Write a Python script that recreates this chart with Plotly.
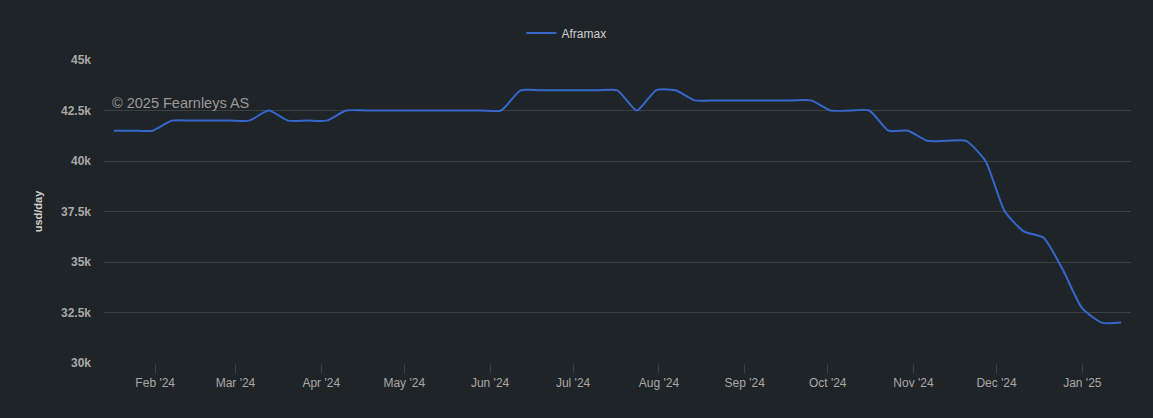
import plotly.graph_objects as go
import pandas as pd

# Weekly Aframax rates (usd/day), Jan 2024 - Jan 2025
start_date = "2024-01-17"
aframax = [41500, 41500, 41500, 42000, 42000, 42000, 42000, 42000, 42500, 42000,
           42000, 42000, 42500, 42500, 42500, 42500, 42500, 42500, 42500, 42500,
           42500, 43500, 43500, 43500, 43500, 43500, 43500, 42500, 43500, 43500,
           43000, 43000, 43000, 43000, 43000, 43000, 43000, 42500, 42500, 42500,
           41500, 41500, 41000, 41000, 41000, 40000, 37500, 36500, 36200, 34600,
           32700, 32000, 32000]
dates = pd.date_range(start_date, periods=len(aframax), freq="7D")

y_ticks = [30000, 32500, 35000, 37500, 40000, 42500, 45000]
y_tick_labels = ["30k", "32.5k", "35k", "37.5k", "40k", "42.5k", "45k"]

BG = "#1f2428"
GRID = "#3b4045"
FONT = "Liberation Sans, Arial, sans-serif"

fig = go.Figure()
fig.add_trace(go.Scatter(
    x=dates, y=aframax, mode="lines", name="Aframax",
    line=dict(color="#3567cc", width=2, shape="spline", smoothing=0.6),
))

fig.update_layout(
    width=1153, height=418,
    paper_bgcolor=BG, plot_bgcolor=BG,
    margin=dict(l=104, r=22, t=60, b=55, autoexpand=False),
    font=dict(family=FONT, color="#c8c8c8", size=12),
    showlegend=True,
    legend=dict(orientation="h", x=0.4913, xanchor="center", xref="container",
                y=0.921, yanchor="middle", yref="container",
                font=dict(size=12, color="#cfcfcf"), bgcolor="rgba(0,0,0,0)"),
    annotations=[dict(
        text="© 2025 Fearnleys AS", xref="paper", yref="paper",
        x=0.006, y=0.858, xanchor="left", yanchor="middle",
        showarrow=False, font=dict(size=14.5, color="#9a9a9a", family=FONT),
    )],
)

fig.update_xaxes(
    range=["2024-01-13 12:00", "2025-01-18 14:00"],
    tick0="2024-01-01", dtick="M1", tickformat="%b '%y",
    showgrid=False, zeroline=False, showline=False,
    ticks="outside", ticklen=9, tickcolor=GRID, tickwidth=1,
    tickfont=dict(size=12, color="#a8a8a8"),
)
fig.update_yaxes(
    range=[30000, 45000], tickvals=y_ticks, ticktext=y_tick_labels,
    showgrid=True, gridcolor=GRID, gridwidth=1, zeroline=False, showline=False,
    tickfont=dict(size=12, color="#a8a8a8", family="Liberation Sans, Arial, sans-serif", weight="bold"),
    ticklabelstandoff=12,
    title=dict(text="<b>usd/day</b>", font=dict(size=11, color="#cfcfcf"), standoff=16),
)

fig.write_html("out.html")
